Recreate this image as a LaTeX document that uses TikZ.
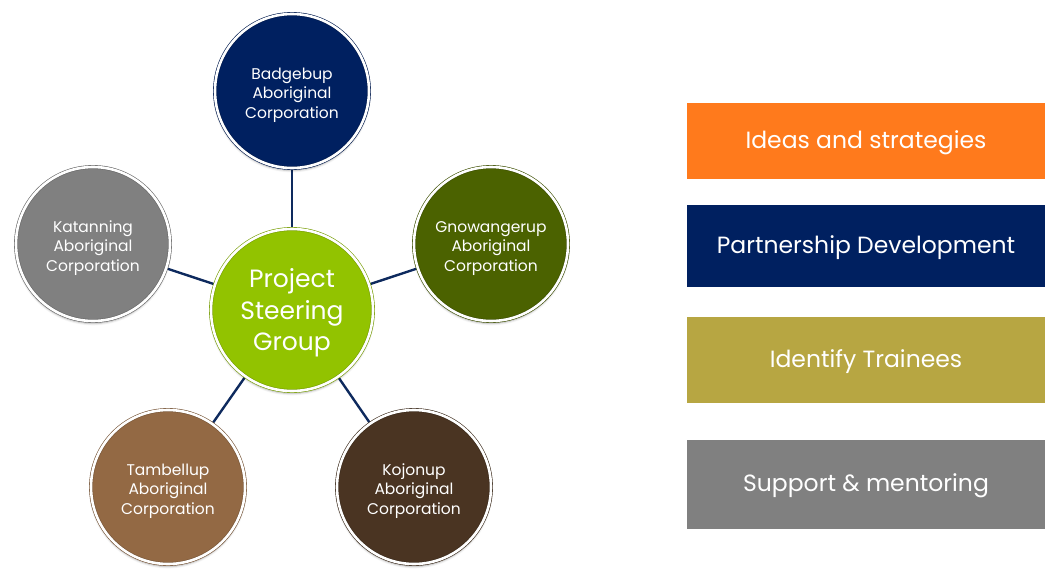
\documentclass[tikz,border=0pt]{standalone}
\usepackage{fontspec}
\setmainfont{Poppins}
\usetikzlibrary{shadows.blur,backgrounds}

\definecolor{navy}{HTML}{002060}
\definecolor{linknavy}{HTML}{0E2A5E}
\definecolor{hubgreen}{HTML}{92C300}
\definecolor{olivegreen}{HTML}{4B6200}
\definecolor{midgray}{HTML}{808080}
\definecolor{tanbrown}{HTML}{936944}
\definecolor{darkbrown}{HTML}{4A3422}
\definecolor{boxorange}{HTML}{FF7A1C}
\definecolor{boxolive}{HTML}{B7A642}

% centred block of lines, drawn a little below the node centre
\newcommand{\lowblock}[2]{\raisebox{-#1}[\height][\depth]{\begin{tabular}{@{}c@{}}#2\end{tabular}}}

\tikzset{
  org/.style={circle, fill=#1, draw=#1!80!black, double=white, double distance=2.6pt,
    line width=0.6pt, minimum size=154pt, inner sep=0pt, text=white,
    font=\fontsize{15.5}{19.5}\selectfont,
    blur shadow={shadow xshift=0pt, shadow yshift=-2.5pt, shadow blur steps=6, shadow opacity=30}},
  hub/.style={org=#1, minimum size=162pt, font=\fontsize{25}{31.5}\selectfont},
  band/.style={rectangle, fill=#1, minimum width=358pt, inner sep=0pt, text=white,
    font=\fontsize{23.5}{28}\selectfont},
  link/.style={draw=linknavy, line width=2.4pt}
}

\begin{document}
\begin{tikzpicture}[x=1pt,y=-1pt]
\useasboundingbox (0,0) rectangle (1045,573);

% organisations around the steering group
\node[hub=hubgreen]   (psg) at (292,310) {\lowblock{3pt}{Project\\Steering\\Group}};
\node[org=navy]       (bad) at (292,91)  {\lowblock{4pt}{Badgebup\\Aboriginal\\Corporation}};
\node[org=midgray]    (kat) at (93,244)  {\lowblock{4pt}{Katanning\\Aboriginal\\Corporation}};
\node[org=olivegreen] (gno) at (491,244) {\lowblock{4pt}{Gnowangerup\\Aboriginal\\Corporation}};
\node[org=tanbrown]   (tam) at (168,487) {\lowblock{4pt}{Tambellup\\Aboriginal\\Corporation}};
\node[org=darkbrown]  (koj) at (414,487) {\lowblock{4pt}{Kojonup\\Aboriginal\\Corporation}};

\begin{scope}[on background layer]
  \foreach \o in {bad,kat,gno,tam,koj}
    \draw[link] (psg) -- (\o);
\end{scope}

% roles of the group
\node[band=boxorange, minimum height=76pt] (ideas) at (866,141) {\lowblock{2pt}{Ideas and strategies}};
\node[band=navy,      minimum height=82pt] (part)  at (866,246) {\lowblock{2pt}{Partnership Development}};
\node[band=boxolive,  minimum height=86pt] (trai)  at (866,360) {\lowblock{2pt}{Identify Trainees}};
\node[band=midgray,   minimum height=89pt] (supp)  at (866,484) {\lowblock{2pt}{Support \& mentoring}};
\end{tikzpicture}
\end{document}
